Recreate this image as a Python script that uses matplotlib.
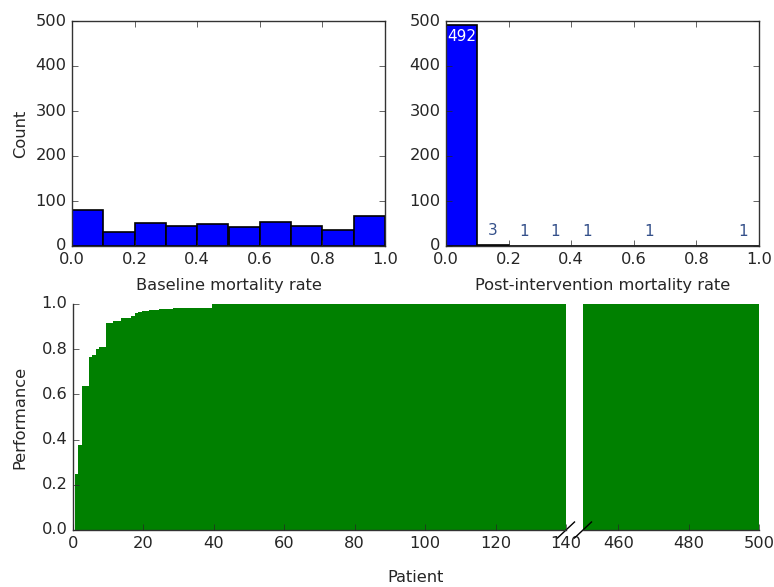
import matplotlib
matplotlib.use('Agg')
import matplotlib.pyplot as plt
import numpy as np

# histogram counts (10 bins over 0..1)
bin_edges = [0.0, 0.1, 0.2, 0.3, 0.4, 0.5, 0.6, 0.7, 0.8, 0.9, 1.0]
baseline_counts = [80, 32, 52, 45, 48, 43, 54, 45, 35, 66]
post_counts = [492, 3, 1, 1, 1, 0, 1, 0, 0, 1]

# performance step curve (sorted by patient)
step_x = [0.5, 1.5, 2.5, 4.5, 5.5, 6.5, 7.5, 9.5, 11.5, 13.5, 16.5, 17.5,
          18.5, 19.5, 21.5, 24.5, 28.5, 39.5, 500]
step_y = [0.25, 0.375, 0.635, 0.765, 0.775, 0.80, 0.81, 0.915, 0.925, 0.94,
          0.948, 0.958, 0.965, 0.97, 0.975, 0.978, 0.982, 1.0, 1.0]

plt.style.use('classic')
plt.rcParams['font.size'] = 11.7
plt.rcParams['figure.facecolor'] = 'white'
plt.rcParams['text.color'] = '#262626'
plt.rcParams['axes.labelcolor'] = '#262626'
plt.rcParams['xtick.color'] = '#262626'
plt.rcParams['ytick.color'] = '#262626'
plt.rcParams['axes.edgecolor'] = '#333333'

fig = plt.figure(figsize=(7.74, 5.87), dpi=100)
W, H = 774.0, 587.0

ax1 = fig.add_axes([72 / W, 1 - 246 / H, 313 / W, 225 / H])
ax2 = fig.add_axes([446 / W, 1 - 246 / H, 313 / W, 225 / H])

lefts = bin_edges[:-1]
ax1.bar(lefts, baseline_counts, width=0.1, align='edge', color='b', edgecolor='k', linewidth=1.2)
ax1.set_xlim(0, 1)
ax1.set_ylim(0, 500)
ax1.set_xlabel('Baseline mortality rate', labelpad=8)
ax1.set_ylabel('Count')

ax2.bar(lefts, post_counts, width=0.1, align='edge', color='b', edgecolor='k', linewidth=1.2)
ax2.set_xlim(0, 1)
ax2.set_ylim(0, 500)
ax2.set_xlabel('Post-intervention mortality rate', labelpad=8)
for left, c in zip(lefts, post_counts):
    if c == 0:
        continue
    if c > 100:
        ax2.text(left + 0.05, c - 27, str(c), color='white', ha='center', va='center', fontsize=11)
    else:
        ax2.text(left + 0.05, c + 32, str(c), color='#34508a', ha='center', va='center', fontsize=11)

# broken x-axis for the performance plot
ax3 = fig.add_axes([73 / W, 1 - 530 / H, 493 / W, 226 / H])
ax4 = fig.add_axes([583 / W, 1 - 530 / H, 176 / W, 226 / H])

for ax in (ax3, ax4):
    ax.fill_between(step_x, step_y, 0, step='post', color='green', linewidth=0)
    ax.set_ylim(0, 1)
    ax.spines['top'].set_visible(False)
    ax.spines['right'].set_visible(False)
    ax.xaxis.set_ticks_position('bottom')

ax3.set_xlim(0, 140)
ax3.set_xticks(np.arange(0, 141, 20))
ax3.yaxis.set_ticks_position('left')
ax3.set_ylabel('Performance', labelpad=10)

ax4.set_xlim(450, 500)
ax4.set_xticks([460, 480, 500])
ax4.spines['left'].set_visible(False)
ax4.set_yticks([])

# diagonal break marks
dx3, dy3 = 8.5 / 493, 8 / 226
ax3.plot([1 - dx3, 1 + dx3], [-dy3, dy3], color='k', lw=1, transform=ax3.transAxes, clip_on=False)
dx4, dy4 = 8.5 / 176, 8 / 226
ax4.plot([-dx4, dx4], [-dy4, dy4], color='k', lw=1, transform=ax4.transAxes, clip_on=False)

fig.text(416 / W, 1 - 577 / H, 'Patient', ha='center', va='center')

fig.savefig('out.png', dpi=100, facecolor='white')
